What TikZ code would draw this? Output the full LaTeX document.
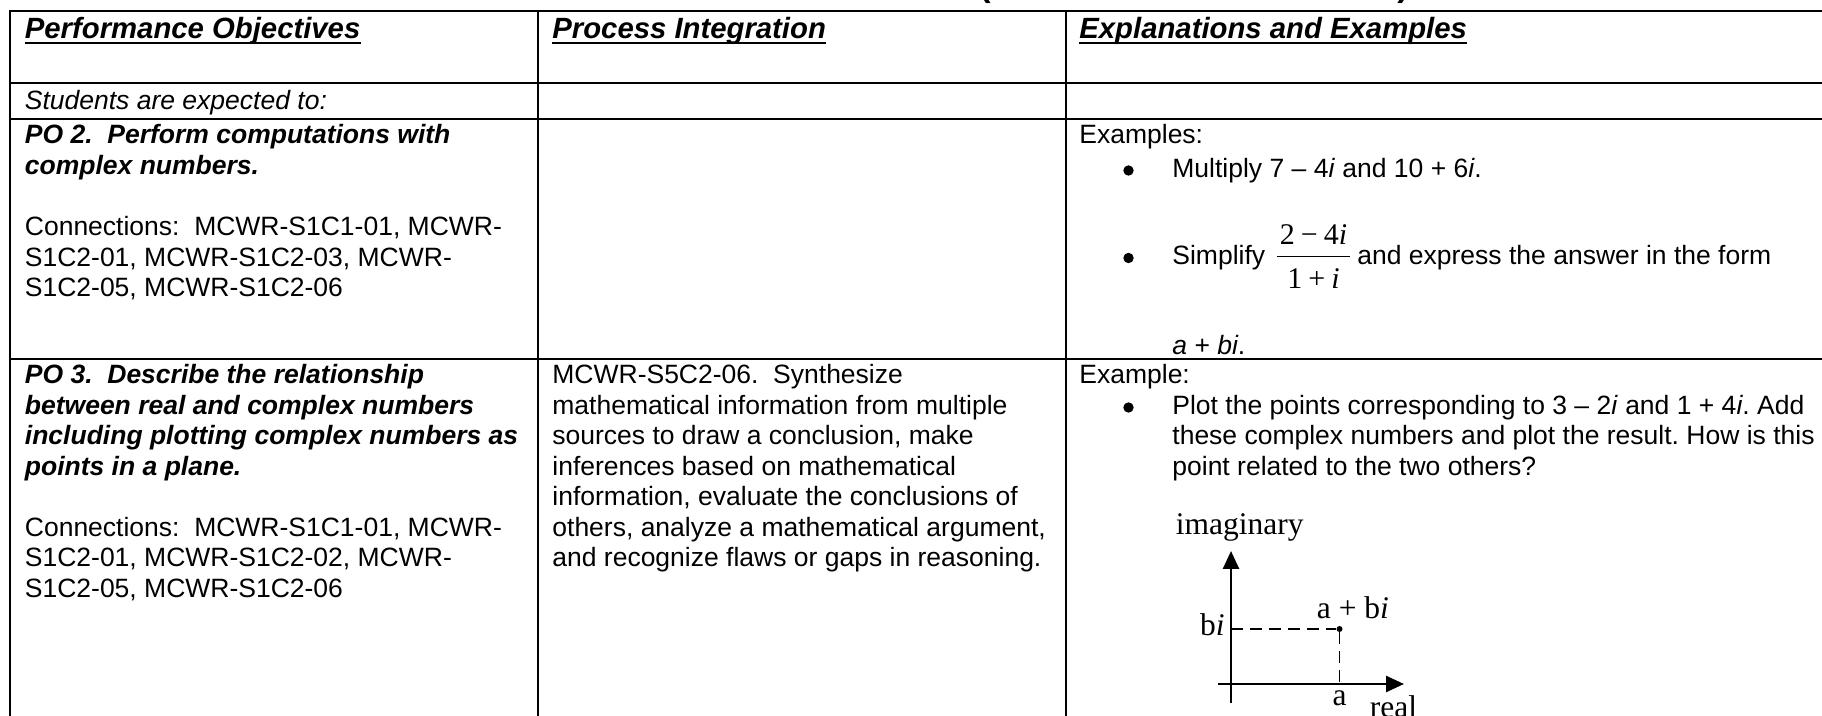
\documentclass[tikz,border=0pt]{standalone}
\usepackage{fontspec}
\setmainfont{Liberation Sans}
\newfontfamily\serifplot{Liberation Serif}
\usetikzlibrary{arrows.meta}
\frenchspacing

% type sizes: table body, column heads, plot labels, fraction
\newcommand\cellsz{\fontsize{13.25pt}{15.25pt}\selectfont}
\newcommand\headsz{\fontsize{14.65pt}{17pt}\selectfont}
\newcommand\plotsz{\serifplot\fontsize{15.75pt}{18pt}\selectfont}
\newcommand\fracsz{\serifplot\fontsize{15pt}{18pt}\selectfont}
\newcommand\opgap{\hspace{0.2em}}

\begin{document}
\begin{tikzpicture}[x=0.5pt,y=-0.5pt,
  rule/.style={line width=1pt, line cap=rect},
  cell/.style={inner sep=0pt, anchor=base west, font=\cellsz},
  cellbi/.style={cell, font=\cellsz\bfseries\itshape},
  head/.style={inner sep=0pt, anchor=base west, font=\headsz\bfseries\itshape},
  bul/.style={circle, fill, inner sep=0pt, minimum size=5.2pt},
  axis/.style={line width=1.3pt, -{Triangle[length=9pt,width=8pt]}},
  guide/.style={line width=0.6pt, dash pattern=on 6pt off 3.5pt},
  plotlbl/.style={inner sep=0pt, font=\plotsz},
  paren/.style={inner sep=0pt, anchor=base west, font=\fontsize{17pt}{20pt}\selectfont\bfseries},
]
\useasboundingbox (0,0) rectangle (1822,716);

% bottom of the title line above the table
\node[paren] (lp) at (979,-3) {(};
\node[paren] (rp) at (1397,-3) {)};

% table rules (table runs on past the right and bottom edges)
\draw[rule] (9.5,730) -- (9.5,11) -- (1840,11);
\draw[rule] (538,11) -- (538,730);
\draw[rule] (1066,11) -- (1066,730);
\draw[rule] (9.5,82.7) -- (1840,82.7);
\draw[rule] (9.5,119.3) -- (1840,119.3);
\draw[rule] (9.5,358.7) -- (1840,358.7);

% column heads
\node[head] (h1) at (24.5,38.5) {Performance Objectives};
\node[head] (h2) at (552,38.5) {Process Integration};
\node[head] (h3) at (1079,38.5) {Explanations and Examples};
\foreach \h in {h1,h2,h3}
  \draw[line width=1.3pt] ([yshift=-2.3pt]\h.base west) -- ([yshift=-2.3pt]\h.base east);

\node[cell, font=\cellsz\itshape] (stud) at (24.5,110) {Students are expected to:};

% PO 2 row
\node[cellbi] (po2a) at (24.5,144) {PO 2.~~Perform computations with};
\node[cellbi] (po2b) at (24.5,175) {complex numbers.};
\foreach \t [count=\i] in {{Connections:~~MCWR-S1C1-01, MCWR-},{S1C2-01, MCWR-S1C2-03, MCWR-},{S1C2-05, MCWR-S1C2-06}}
  \node[cell] (po2c\i) at (24.5,205.5+30.5*\i) {\t};

\node[cell] (ex1) at (1079,144) {Examples:};
\node[bul] (b1) at (1128.5,170.5) {};
\node[cell] (ex1a) at (1172,177.5) {Multiply 7 – 4\textit{i} and 10 + 6\textit{i}.};
\node[bul] (b2) at (1128.5,258) {};
\node[cell] (ex1b) at (1172,265) {Simplify};
\node[inner sep=0pt, anchor=base, font=\fracsz] (num) at (1313.5,245) {2\opgap−\opgap4\textit{i}};
\node[inner sep=0pt, anchor=base, font=\fracsz] (den) at (1313.5,288.5) {1\opgap+\opgap\textit{i}};
\draw[line width=0.75pt] (1277,256.5) -- (1350,256.5);
\node[cell] (ex1c) at (1357,265) {and express the answer in the form};
\node[cell] (ex1d) at (1172,355) {\textit{a} + \textit{bi}.};

% PO 3 row
\foreach \t [count=\i] in {{PO 3.~~Describe the relationship},{between real and complex numbers},{including plotting complex numbers as},{points in a plane.}}
  \node[cellbi] (po3t\i) at (24.5,353.5+30.5*\i) {\t};
\foreach \t [count=\i] in {{Connections:~~MCWR-S1C1-01, MCWR-},{S1C2-01, MCWR-S1C2-02, MCWR-},{S1C2-05, MCWR-S1C2-06}}
  \node[cell] (po3c\i) at (24.5,506+30.5*\i) {\t};

\foreach \t [count=\i] in {{MCWR-S5C2-06.~~Synthesize},{mathematical information from multiple},{sources to draw a conclusion, make},{inferences based on mathematical},{information, evaluate the conclusions of},{others, analyze a mathematical argument,},{and recognize flaws or gaps in reasoning.}}
  \node[cell] (pi\i) at (552,353.5+30.5*\i) {\t};

\node[cell] (ex2) at (1079,384) {Example:};
\node[bul] (b3) at (1128.5,407.5) {};
\foreach \t [count=\i] in {{Plot the points corresponding to 3 – 2\textit{i} and 1 + 4\textit{i}. Add},{these complex numbers and plot the result. How is this},{point related to the two others?}}
  \node[cell] (pl\i) at (1172,384+30.5*\i) {\t};

% complex plane sketch
\coordinate (vbot) at (1231,703);
\coordinate (vtop) at (1231,551);
\coordinate (hleft) at (1218,684);
\coordinate (hright) at (1404,684);
\coordinate (bimark) at (1231,629);
\coordinate (afoot) at (1339.5,684);
\node[circle, fill, inner sep=0pt, minimum size=3pt] (pt) at (1339.5,629) {};
\draw[axis] (vbot) -- (vtop);
\draw[axis] (hleft) -- (hright);
\draw[guide] (bimark) -- (pt);
\draw[guide] (pt) -- (afoot);

\node[plotlbl, anchor=base west] (imag) at (1175.5,535) {imaginary};
\node[plotlbl, anchor=base east] (bilbl) at (1225,636) {b\textit{i}};
\node[plotlbl, anchor=base west] (zlbl) at (1316.5,618) {a + b\textit{i}};
\node[plotlbl, anchor=base] (albl) at (1339.5,705) {a};
\node[plotlbl, anchor=base west] (real) at (1369.5,717.5) {real};
\end{tikzpicture}
\end{document}
